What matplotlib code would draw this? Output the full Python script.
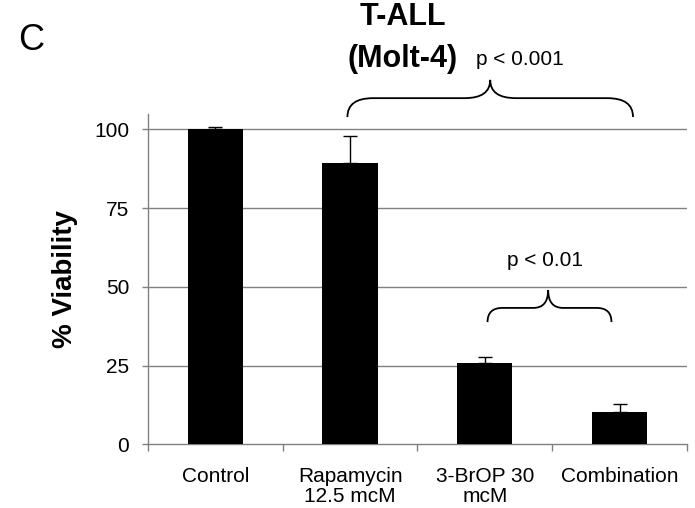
import matplotlib
matplotlib.use("Agg")
import matplotlib.pyplot as plt
from matplotlib.path import Path
from matplotlib.patches import PathPatch

plt.rcParams['font.family'] = ['Liberation Sans', 'DejaVu Sans']

# data
categories = ['Control', 'Rapamycin\n12.5 mcM', '3-BrOP 30\nmcM', 'Combination']
viability = [100, 89.2, 25.9, 10.2]
errors = [0.6, 8.8, 1.7, 2.6]
y_ticks = [0, 25, 50, 75, 100]

# brace annotations: (x left, x tip, x right, y ends, y middle, y tip, curve width), label
brace_big = (0.98, 2.04, 3.10, 103.9, 109.9, 115.7, 0.19)
brace_small = (2.02, 2.47, 2.94, 38.8, 43.3, 49.0, 0.11)
p_big = 'p < 0.001'
p_small = 'p < 0.01'

GRAY = '#808080'


def brace_path(x0, xt, x1, y0, ym, yt, rx):
	verts = [(x0, y0), (x0, ym), (x0 + rx, ym),
			 (xt - rx, ym), (xt, ym), (xt, yt),
			 (xt, ym), (xt + rx, ym),
			 (x1 - rx, ym), (x1, ym), (x1, y0)]
	codes = [Path.MOVETO, Path.CURVE3, Path.CURVE3,
			 Path.LINETO, Path.CURVE3, Path.CURVE3,
			 Path.CURVE3, Path.CURVE3,
			 Path.LINETO, Path.CURVE3, Path.CURVE3]
	return Path(verts, codes)


fig = plt.figure(figsize=(6.95, 5.08), dpi=100)
ax = fig.add_axes([0.2129, 0.1254, 0.7755, 0.651])

x = list(range(len(categories)))
ax.bar(x, viability, width=0.41, color='black', zorder=3)
ax.errorbar(x, viability, yerr=[[0] * len(errors), errors], fmt='none',
			ecolor='black', elinewidth=1, capsize=5, capthick=1, zorder=4)

ax.set_xlim(-0.5, 3.5)
ax.set_ylim(0, 105)
ax.set_yticks(y_ticks)
ax.set_yticklabels([str(t) for t in y_ticks], fontsize=15)
for t in y_ticks[1:]:
	ax.axhline(t, color=GRAY, lw=1, zorder=1)

# category boundaries as major ticks, labels centred as minor ticks
ax.set_xticks([i - 0.5 for i in range(len(categories) + 1)])
ax.set_xticklabels([])
ax.set_xticks(x, minor=True)
ax.set_xticklabels(categories, minor=True, fontsize=15, linespacing=1.1)
ax.tick_params(axis='x', which='major', length=5, width=1, color=GRAY, direction='out')
ax.tick_params(axis='x', which='minor', length=0, pad=16)
ax.tick_params(axis='y', length=4.5, width=1, color=GRAY, pad=9)

for s in ['top', 'right']:
	ax.spines[s].set_visible(False)
for s in ['left', 'bottom']:
	ax.spines[s].set_color(GRAY)
	ax.spines[s].set_linewidth(1)

for b, label, dy in [(brace_big, p_big, 6.5), (brace_small, p_small, 9.5)]:
	patch = PathPatch(brace_path(*b), facecolor='none', edgecolor='black', lw=1.3, clip_on=False, zorder=5)
	ax.add_patch(patch)
	ax.text(b[1] + (0.22 if label == p_big else -0.02), b[5] + dy, label, fontsize=15,
			ha='center', va='center', clip_on=False)

fig.text(0.580, 0.9675, 'T-ALL', fontsize=22, fontweight='bold', ha='center', va='center')
fig.text(0.579, 0.884, '(Molt-4)', fontsize=22, fontweight='bold', ha='center', va='center')
fig.text(0.045, 0.921, 'C', fontsize=26, ha='center', va='center')
fig.text(0.094, 0.45, '% Viability', fontsize=20, fontweight='bold', rotation=90,
		 ha='center', va='center')

fig.savefig('out.png', dpi=100)
